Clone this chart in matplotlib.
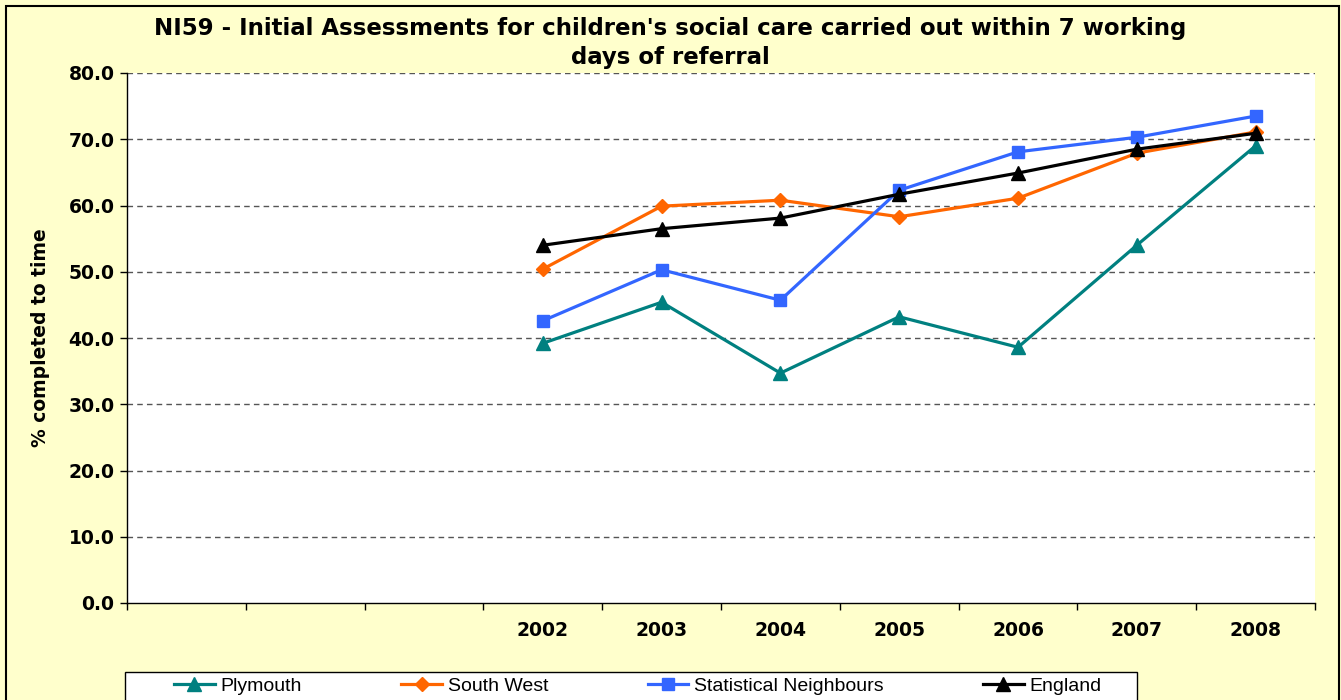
import matplotlib.pyplot as plt
from matplotlib.patches import Rectangle

# category axis: three empty slots before the years
categories = ["", "", "", "2002", "2003", "2004", "2005", "2006", "2007", "2008"]
years = ["2002", "2003", "2004", "2005", "2006", "2007", "2008"]

plymouth = [39.2, 45.4, 34.7, 43.2, 38.6, 54.0, 69.0]
south_west = [50.4, 59.9, 60.8, 58.3, 61.1, 67.9, 71.1]
stat_neighbours = [42.6, 50.3, 45.7, 62.3, 68.1, 70.3, 73.5]
england = [54.0, 56.5, 58.1, 61.7, 64.9, 68.5, 70.9]

yticks = [0, 10, 20, 30, 40, 50, 60, 70, 80]

W, H = 1341, 700
fig = plt.figure(figsize=(W / 100, H / 100), dpi=100)
fig.patch.set_facecolor("#FFFFCC")
# chart-area border (bottom edge falls outside the picture)
fig.patches.append(Rectangle((6 / W, -0.05), (1339 - 6) / W, 1.05 - 6 / H,
                             transform=fig.transFigure, fill=False,
                             edgecolor="black", linewidth=1.5))

ax = fig.add_axes([127 / W, 1 - 603 / H, (1315 - 127) / W, (603 - 73) / H])
ax.set_facecolor("white")

x_pos = [categories.index(y) for y in years]
series = [
    ("Plymouth", plymouth, "#008080", "^", 10),
    ("South West", south_west, "#FF6600", "D", 7.5),
    ("Statistical Neighbours", stat_neighbours, "#3366FF", "s", 8.5),
    ("England", england, "black", "^", 10),
]
for name, vals, col, mk, ms in series:
    ax.plot(x_pos, vals, color=col, marker=mk, markersize=ms, linewidth=2.3,
            label=name, zorder=3)

ax.set_xlim(-0.5, len(categories) - 0.5)
ax.set_ylim(0, 80)
ax.set_yticks(yticks)
ax.set_yticklabels([f"{v:.1f}" for v in yticks], fontsize=13.5, fontweight="bold",
                   family="DejaVu Sans")
ax.set_xticks(range(len(categories)))
ax.set_xticklabels(categories, fontsize=13.5, fontweight="bold", family="DejaVu Sans")
ax.set_xticks([i - 0.5 for i in range(len(categories) + 1)], minor=True)
ax.tick_params(axis="x", which="major", length=0, pad=13)
ax.tick_params(axis="x", which="minor", length=5, direction="out", width=1)
ax.tick_params(axis="y", length=5, direction="out", width=1, pad=4)

for v in yticks[1:]:
    ax.axhline(v, color="#555555", linestyle=(0, (4, 3)), linewidth=1, zorder=1)

ax.spines["top"].set_visible(False)
ax.spines["right"].set_visible(False)
ax.spines["left"].set_linewidth(1)
ax.spines["bottom"].set_linewidth(1)

ax.set_ylabel("% completed to time", fontsize=13.5, fontweight="bold",
              family="DejaVu Sans", labelpad=13)

fig.text(0.5, 1 - 43 / H,
         "NI59 - Initial Assessments for children's social care carried out within 7 working\ndays of referral",
         ha="center", va="center", fontsize=16.5, fontweight="bold",
         family="DejaVu Sans", linespacing=1.35)

# legend box (extends past the bottom edge of the picture)
fig.patches.append(Rectangle((125 / W, -0.05), (1137 - 125) / W, 0.05 + 1 - 672 / H,
                             transform=fig.transFigure, facecolor="white",
                             edgecolor="black", linewidth=1))
handles, labels = ax.get_legend_handles_labels()
leg = fig.legend(handles, labels, loc="center left",
                 bbox_to_anchor=(174 / W, 1 - 686 / H), ncol=4, frameon=False,
                 prop={"family": "Liberation Sans", "size": 14},
                 handlelength=2.1, handletextpad=0.3, columnspacing=5.1,
                 borderaxespad=0, borderpad=0)

fig.savefig("out.png", dpi=100, facecolor=fig.get_facecolor())
